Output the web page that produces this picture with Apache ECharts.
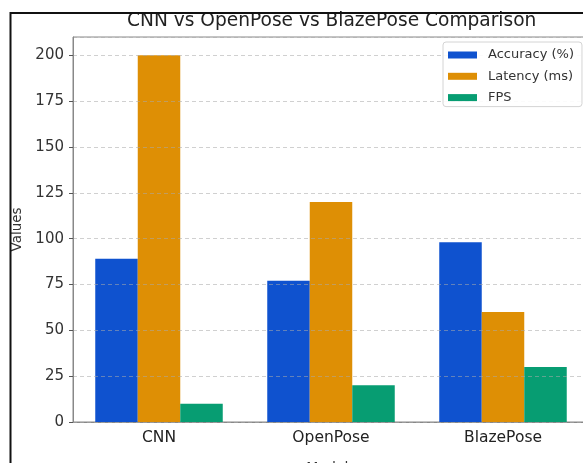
<!DOCTYPE html>
<html>
<head>
<meta charset="utf-8">
<script src="https://cdn.jsdelivr.net/npm/echarts@6/dist/echarts.min.js"></script>
<style>
  html, body { margin: 0; padding: 0; background: #fff; }
  #chart { width: 583px; height: 463px; }
</style>
</head>
<body>
<div id="chart"></div>
<script>
var models = ['CNN', 'OpenPose', 'BlazePose'];
var accuracy = [89, 77, 98];
var latency = [200, 120, 60];
var fps = [10, 20, 30];
var seriesNames = ['Accuracy (%)', 'Latency (ms)', 'FPS'];
var barColors = ['#0f52cf', '#de8f05', '#079d72'];

var chart = echarts.init(document.getElementById('chart'));
var font = 'DejaVu Sans';

var series = [];
[accuracy, latency, fps].forEach(function (vals, i) {
  series.push({
    name: seriesNames[i],
    type: 'bar',
    barWidth: 42.5,
    barGap: 0,
    itemStyle: { color: barColors[i] },
    data: vals
  });
});

var option = {
  animation: false,
  backgroundColor: '#fff',
  color: barColors,
  textStyle: { fontFamily: font },
  title: {
    text: 'CNN vs OpenPose vs BlazePose Comparison',
    left: 127,
    top: 12,
    padding: 0,
    textStyle: { color: '#222', fontSize: 18.6, fontWeight: 'normal', fontFamily: font }
  },
  legend: {
    orient: 'vertical',
    left: 443,
    top: 42,
    padding: [6, 8, 2, 5],
    itemWidth: 29,
    itemHeight: 7,
    itemGap: 7.3,
    icon: 'rect',
    backgroundColor: 'rgba(255,255,255,0.9)',
    borderColor: '#d4d4d4',
    borderWidth: 1,
    borderRadius: 3,
    textStyle: { color: '#333', fontSize: 13, lineHeight: 14, padding: [0, 0, 0, 6], fontFamily: font },
    data: seriesNames
  },
  grid: {
    left: 73,
    top: 37,
    width: 516,
    height: 385,
    outerBoundsMode: 'none',
    show: true,
    borderColor: '#888',
    borderWidth: 1,
    backgroundColor: '#fff'
  },
  xAxis: {
    type: 'category',
    data: models,
    name: 'Models',
    nameLocation: 'middle',
    nameGap: 39,
    nameTextStyle: { color: '#333', fontSize: 14 },
    axisLine: { lineStyle: { color: '#888' } },
    axisTick: { alignWithLabel: true, length: 4, lineStyle: { color: '#555' } },
    axisLabel: { color: '#222', fontSize: 15.5, margin: 8 },
    splitLine: { show: false }
  },
  yAxis: {
    type: 'value',
    min: 0,
    max: 210,
    interval: 25,
    z: 3,
    name: 'Values',
    nameLocation: 'middle',
    nameGap: 48,
    nameRotate: 90,
    nameTextStyle: { color: '#333', fontSize: 13.5 },
    axisLine: { show: true, lineStyle: { color: '#888' } },
    axisTick: { show: true, length: 4, lineStyle: { color: '#555' } },
    axisLabel: { color: '#333', fontSize: 15, margin: 9, showMaxLabel: false },
    splitLine: { lineStyle: { color: 'rgba(170,170,170,0.55)', type: [4, 3], width: 1 } }
  },
  graphic: [{
    type: 'polyline',
    z: 100,
    shape: { points: [[10.5, 480], [10.5, 13], [600, 13]] },
    style: { fill: null, stroke: '#111', lineWidth: 2 }
  }],
  series: series
};

option && chart.setOption(option);
</script>
</body>
</html>
